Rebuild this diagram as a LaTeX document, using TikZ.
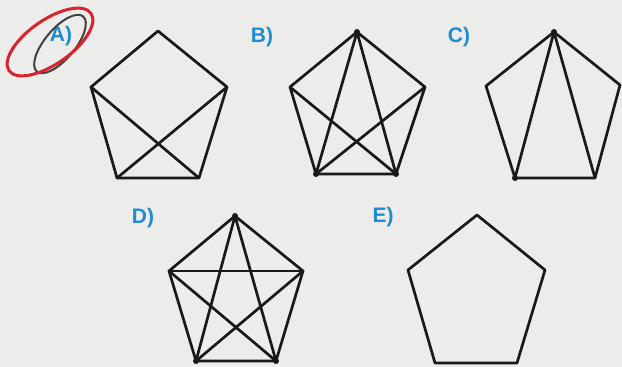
\documentclass[tikz,border=0pt]{standalone}
\usepackage{fontspec}
\setmainfont{Liberation Sans}
\definecolor{labelblue}{RGB}{30,140,210}
\definecolor{paper}{RGB}{236,236,234}
\definecolor{pen}{RGB}{25,25,25}
\definecolor{marker}{RGB}{215,35,45}
\tikzset{
  fig/.style={draw=pen, line width=2.7pt, line join=round, line cap=round},
  lbl/.style={text=labelblue, font=\fontsize{21}{24}\selectfont\bfseries},
}
\begin{document}
\begin{tikzpicture}[x=1pt, y=-1pt]
  \fill[paper] (0,0) rectangle (622,367);
  \useasboundingbox (0,0) rectangle (622,367);

  % A
  \coordinate (a1) at (158,31);
  \coordinate (a2) at (227,87);
  \coordinate (a3) at (199,178);
  \coordinate (a4) at (117,178);
  \coordinate (a5) at (91,87);
  \draw[fig] (a1) -- (a2) -- (a3) -- (a4) -- (a5) -- cycle;
  \draw[fig] (a5) to (a3);
  \draw[fig] (a2) to (a4);
  \node[lbl] (la) at (61,36) {A)};
  \draw[darkgray, line width=2pt, rotate around={50:(60,44)}] (60,44) ellipse (36 and 15);
  \draw[marker, line width=3pt, rotate around={35:(50,42)}] (50,42) ellipse (50 and 22);

  % B
  \coordinate (b1) at (357,32);
  \coordinate (b2) at (425,87);
  \coordinate (b3) at (396,174);
  \coordinate (b4) at (316,174);
  \coordinate (b5) at (290,87);
  \draw[fig] (b1) -- (b2) -- (b3) -- (b4) -- (b5) -- cycle;
  \draw[fig] (b1) to (b4);
  \draw[fig] (b1) to (b3);
  \draw[fig] (b5) to (b3);
  \draw[fig] (b2) to (b4);
  \fill[pen] (b1) circle (3);
  \fill[pen] (b3) circle (3);
  \fill[pen] (b4) circle (3);
  \node[lbl] (lb) at (262,37) {B)};

  % C
  \coordinate (c1) at (554,32);
  \coordinate (c2) at (620,85);
  \coordinate (c3) at (595,178);
  \coordinate (c4) at (515,178);
  \coordinate (c5) at (486,86);
  \draw[fig] (c1) -- (c2) -- (c3) -- (c4) -- (c5) -- cycle;
  \draw[fig] (c1) to (c4);
  \draw[fig] (c1) to (c3);
  \fill[pen] (c1) circle (3);
  \fill[pen] (c4) circle (3);
  \node[lbl] (lc) at (459,37) {C)};

  % D
  \coordinate (d1) at (235,216);
  \coordinate (d2) at (303,271);
  \coordinate (d3) at (276,361);
  \coordinate (d4) at (196,361);
  \coordinate (d5) at (169,271);
  \draw[fig] (d1) -- (d2) -- (d3) -- (d4) -- (d5) -- cycle;
  \foreach \s/\t in {1/3, 1/4, 2/4, 2/5, 3/5}
    \draw[fig] (d\s) to (d\t);
  \fill[pen] (d1) circle (3);
  \fill[pen] (d3) circle (3);
  \fill[pen] (d4) circle (3);
  \node[lbl] (ld) at (143,218) {D)};

  % E
  \coordinate (e1) at (477,215);
  \coordinate (e2) at (545,270);
  \coordinate (e3) at (517,363);
  \coordinate (e4) at (435,363);
  \coordinate (e5) at (408,270);
  \draw[fig] (e1) -- (e2) -- (e3) -- (e4) -- (e5) -- cycle;
  \node[lbl] (le) at (383,217) {E)};
\end{tikzpicture}
\end{document}
